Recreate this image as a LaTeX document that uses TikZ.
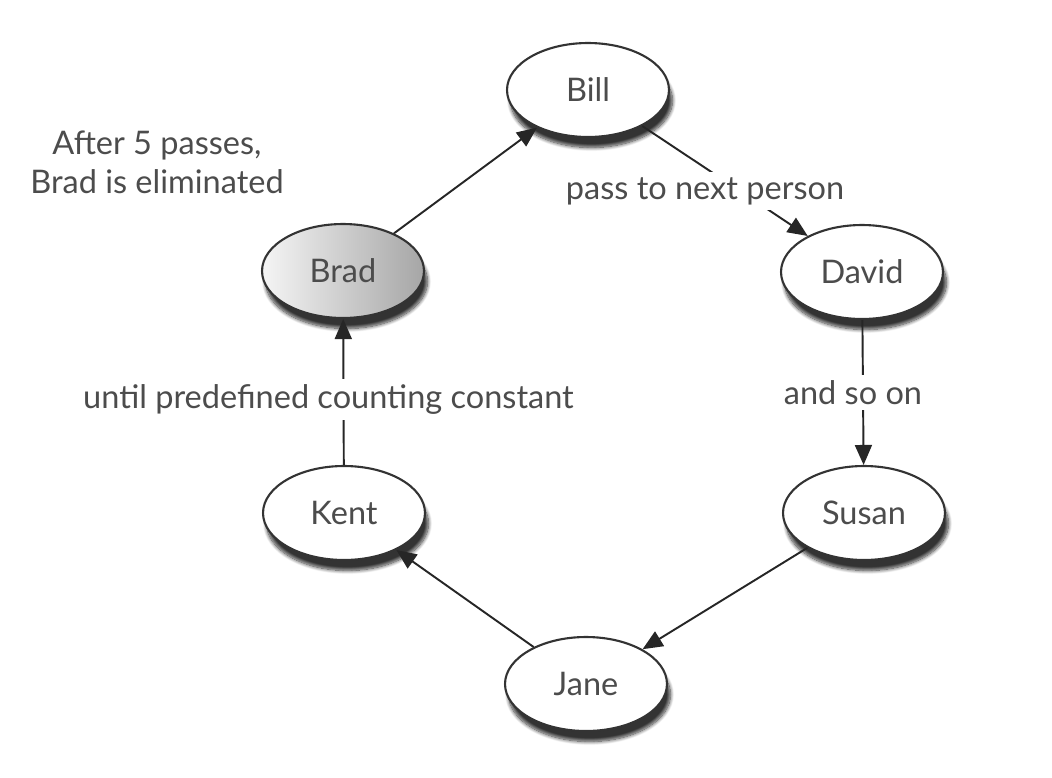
\documentclass[tikz,border=0pt]{standalone}
\usepackage{fontspec}
\setmainfont{Lato}
\usepackage{tikz}
\usetikzlibrary{arrows.meta,positioning,shapes.geometric,shadows.blur}

\begin{document}
\begin{tikzpicture}[x=0.02cm, y=-0.02cm,
          person/.style={ellipse, draw=black!80, line width=1.2pt, fill=white,
                      minimum width=3.24cm, minimum height=1.88cm, inner sep=2pt,
                      font=\fontsize{18.5}{22}\selectfont, text=black!70,
                      blur shadow={shadow xshift=2pt, shadow yshift=-6pt,
                                   shadow blur steps=10, shadow opacity=80}},
          elimd/.style={person, left color=gray!8, right color=gray!70},
          note/.style={font=\fontsize{18.5}{22}\selectfont, text=black!70,
                      fill=white, inner sep=3pt, align=center},
          arr/.style={-{Triangle[length=4mm, width=3.4mm]}, line width=1.1pt, black!85}
        ]
          \useasboundingbox (0,0) rectangle (1052,778);
          \node[person] (bill)  at (588,90)  {Bill};
          \node[person] (david) at (862,272) {David};
          \node[person] (susan) at (864,513) {Susan};
          \node[person] (jane)  at (586,684) {Jane};
          \node[person] (kent)  at (344,513) {Kent};
          \node[elimd]  (brad)  at (343,271) {Brad};
          \node[note, fill=none] (elim) at (157,162) {After 5 passes,\\Brad is eliminated};
          \draw[arr] (brad) -- (bill);
          \draw[arr] (bill) -- node[note, xshift=-0.4cm, yshift=-0.2cm] {pass to next person} (david);
          \draw[arr] (david) -- node[note, xshift=-0.2cm] {and so on} (susan);
          \draw[arr] (susan) -- (jane);
          \draw[arr] (jane) -- (kent);
          % label sits a bit left of the line
          \draw[arr] (kent) -- node[note, xshift=-0.3cm, yshift=-0.15cm] {until predefined counting constant} (brad);
        \end{tikzpicture}
\end{document}
